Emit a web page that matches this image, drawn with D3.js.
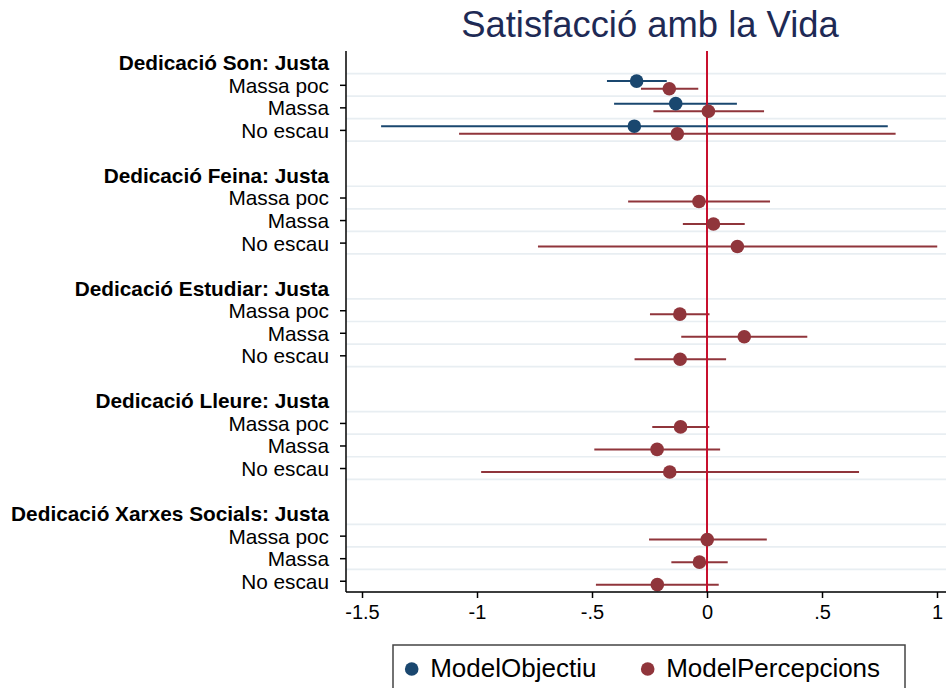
<!DOCTYPE html>
<html>
<head>
<meta charset="utf-8">
<script src="https://cdn.jsdelivr.net/npm/d3@7"></script>
<style>
  html, body { margin: 0; padding: 0; background: #fff; }
  svg { display: block; font-family: "Liberation Sans", Arial, Helvetica, sans-serif; }
</style>
</head>
<body>
<svg id="chart" width="946" height="688"></svg>
<script>
// ---------- data ----------
const groups = ["Dedicació Son: Justa", "Dedicació Feina: Justa", "Dedicació Estudiar: Justa",
                "Dedicació Lleure: Justa", "Dedicació Xarxes Socials: Justa"];
const levels = ["Massa poc", "Massa", "No escau"];
const seriesNames = ["ModelObjectiu", "ModelPercepcions"];
const xTicks = [-1.5, -1, -0.5, 0, 0.5, 1];
const xTickLabels = ["-1.5", "-1", "-.5", "0", ".5", "1"];

// ModelObjectiu: only the Son group
const objGroup = [0];
const objCoef = [[-0.306, -0.136, -0.316]];
const objLo   = [[-0.435, -0.404, -1.417]];
const objHi   = [[-0.175,  0.130,  0.786]];

// ModelPercepcions: all groups
const perCoef = [[-0.164,  0.006, -0.129],
                 [-0.035,  0.028,  0.132],
                 [-0.118,  0.162, -0.117],
                 [-0.115, -0.217, -0.162],
                 [ 0.001, -0.033, -0.216]];
const perLo   = [[-0.287, -0.233, -1.078],
                 [-0.343, -0.105, -0.735],
                 [-0.248, -0.112, -0.315],
                 [-0.238, -0.490, -0.982],
                 [-0.252, -0.155, -0.483]];
const perHi   = [[-0.038,  0.248,  0.820],
                 [ 0.274,  0.164,  1.001],
                 [ 0.011,  0.436,  0.083],
                 [ 0.010,  0.057,  0.661],
                 [ 0.260,  0.090,  0.051]];

// ---------- layout ----------
const colors = ["#1a476f", "#90353b"];
const offsets = [-0.165, 0.175];
const rowsPerGroup = 5;
const nRows = groups.length * rowsPerGroup - 1;

const svg = d3.select("#chart");
const plotL = 346, plotR = 946, plotT = 51, plotB = 592;

const x = d3.scaleLinear().domain([-1.5696, 1.0391]).range([plotL, plotR]);
const y = d3.scaleLinear().domain([-0.5, nRows - 0.5]).range([plotT, plotB]);

const headerRow = g => g * rowsPerGroup;
const itemRow = (g, l) => g * rowsPerGroup + 1 + l;

// build point records
const points = [];
objGroup.forEach((g, i) => levels.forEach((lv, l) =>
  points.push({s: 0, g, l, c: objCoef[i][l], lo: objLo[i][l], hi: objHi[i][l]})));
groups.forEach((gn, g) => levels.forEach((lv, l) =>
  points.push({s: 1, g, l, c: perCoef[g][l], lo: perLo[g][l], hi: perHi[g][l]})));

// gridlines
const gridRows = [];
groups.forEach((gn, g) => { for (let k = 0; k < 4; k++) gridRows.push(headerRow(g) + k + 0.5); });
svg.append("g").selectAll("line").data(gridRows).join("line")
  .attr("x1", plotL).attr("x2", plotR)
  .attr("y1", d => y(d)).attr("y2", d => y(d))
  .attr("stroke", "#e8eef2").attr("stroke-width", 1.7);

// CI lines
svg.append("g").selectAll("line").data(points).join("line")
  .attr("x1", d => x(d.lo)).attr("x2", d => x(d.hi))
  .attr("y1", d => y(itemRow(d.g, d.l) + offsets[d.s]))
  .attr("y2", d => y(itemRow(d.g, d.l) + offsets[d.s]))
  .attr("stroke", d => colors[d.s]).attr("stroke-width", 2);

// zero line
svg.append("line")
  .attr("x1", x(0)).attr("x2", x(0)).attr("y1", plotT).attr("y2", plotB)
  .attr("stroke", "#c8102e").attr("stroke-width", 2);

// markers
svg.append("g").selectAll("circle").data(points).join("circle")
  .attr("cx", d => x(d.c))
  .attr("cy", d => y(itemRow(d.g, d.l) + offsets[d.s]))
  .attr("r", 6.8)
  .attr("fill", d => colors[d.s]);

// x axis
const xAxis = d3.axisBottom(x).tickValues(xTicks)
  .tickFormat((d, i) => xTickLabels[i]).tickSizeOuter(0).tickSize(6).tickPadding(7);
const gx = svg.append("g").attr("transform", `translate(0,${plotB})`).call(xAxis);
gx.select(".domain").attr("d", `M${plotL},0H${plotR}`).attr("stroke", "#000").attr("stroke-width", 1.5);
gx.selectAll(".tick line").attr("stroke", "#000").attr("stroke-width", 1.5);
gx.selectAll(".tick text").attr("font-size", 20).attr("fill", "#000")
  .attr("font-family", "'Liberation Sans', Arial, Helvetica, sans-serif");

// y axis
const itemRows = [];
groups.forEach((gn, g) => levels.forEach((lv, l) => itemRows.push(itemRow(g, l))));
const yAxis = d3.axisLeft(y).tickValues(itemRows).tickFormat("").tickSize(6).tickSizeOuter(0);
const gy = svg.append("g").attr("transform", `translate(${plotL},0)`).call(yAxis);
gy.select(".domain").attr("d", `M0,${plotT}V${plotB}`).attr("stroke", "#000").attr("stroke-width", 1.5);
gy.selectAll(".tick line").attr("stroke", "#000").attr("stroke-width", 1.5);

// y labels
const labelData = [];
groups.forEach((gn, g) => {
  labelData.push({row: headerRow(g), text: gn, bold: true});
  levels.forEach((lv, l) => labelData.push({row: itemRow(g, l), text: lv, bold: false}));
});
svg.append("g").selectAll("text").data(labelData).join("text")
  .attr("x", 329).attr("y", d => y(d.row)).attr("dy", "0.38em")
  .attr("text-anchor", "end")
  .attr("font-size", 20.8)
  .attr("font-weight", d => d.bold ? "bold" : "normal")
  .attr("fill", "#000")
  .text(d => d.text);

// title
svg.append("text")
  .attr("x", 650).attr("y", 37).attr("text-anchor", "middle")
  .attr("font-size", 36.4).attr("fill", "#1e2a55")
  .text("Satisfacció amb la Vida");

// legend
const lg = svg.append("g");
lg.append("rect").attr("x", 393).attr("y", 645).attr("width", 512).attr("height", 70)
  .attr("fill", "#fff").attr("stroke", "#444").attr("stroke-width", 1.5);
const legX = [411.7, 647.7];
seriesNames.forEach((n, i) => {
  lg.append("circle").attr("cx", legX[i]).attr("cy", 669).attr("r", 6.8).attr("fill", colors[i]);
  lg.append("text").attr("x", legX[i] + 18.5).attr("y", 677).attr("font-size", 26)
    .attr("fill", "#000").text(n);
});
</script>
</body>
</html>
